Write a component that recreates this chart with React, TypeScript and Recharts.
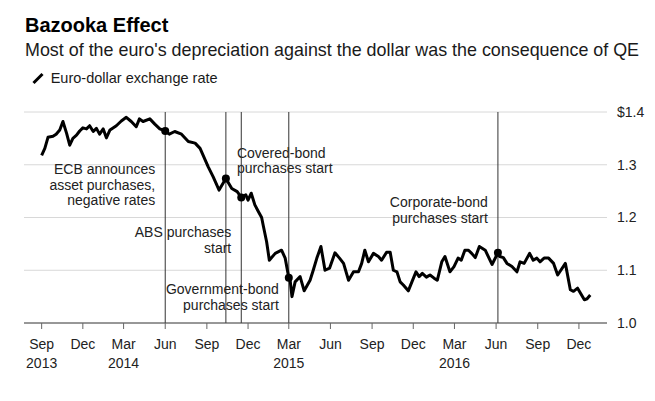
import { LineChart, Line, XAxis, YAxis, CartesianGrid, ReferenceLine, ReferenceDot } from 'recharts';

// weekly-ish readings of the euro-dollar rate
const dates = [
    '2013-09-01', '2013-09-08', '2013-09-15', '2013-09-26', '2013-10-03', '2013-10-11', '2013-10-18', '2013-10-26',
    '2013-11-02', '2013-11-09', '2013-11-17', '2013-11-24', '2013-12-01', '2013-12-09', '2013-12-16', '2013-12-24',
    '2013-12-31', '2014-01-07', '2014-01-15', '2014-01-22', '2014-01-30', '2014-02-13', '2014-02-24', '2014-03-07',
    '2014-03-18', '2014-03-29', '2014-04-05', '2014-04-13', '2014-04-28', '2014-05-09', '2014-05-20', '2014-06-01',
    '2014-06-10', '2014-06-22', '2014-07-07', '2014-07-22', '2014-08-06', '2014-08-17', '2014-09-04', '2014-09-15',
    '2014-09-28', '2014-10-13', '2014-10-26', '2014-11-07', '2014-11-16', '2014-11-26', '2014-12-01', '2014-12-08',
    '2014-12-16', '2014-12-24', '2014-12-31', '2015-01-04', '2015-01-11', '2015-01-17', '2015-01-30', '2015-02-13',
    '2015-02-21', '2015-03-01', '2015-03-04', '2015-03-08', '2015-03-15', '2015-03-26', '2015-04-04', '2015-04-17',
    '2015-04-24', '2015-05-02', '2015-05-11', '2015-05-20', '2015-05-30', '2015-06-11', '2015-06-21', '2015-06-30',
    '2015-07-11', '2015-07-22', '2015-08-02', '2015-08-09', '2015-08-16', '2015-08-24', '2015-09-04', '2015-09-15',
    '2015-09-22', '2015-10-03', '2015-10-11', '2015-10-18', '2015-10-26', '2015-11-02', '2015-11-09', '2015-11-20',
    '2015-11-28', '2015-12-07', '2015-12-14', '2015-12-21', '2015-12-30', '2016-01-07', '2016-01-16', '2016-01-23',
    '2016-02-02', '2016-02-09', '2016-02-20', '2016-02-29', '2016-03-09', '2016-03-16', '2016-03-24', '2016-04-01',
    '2016-04-08', '2016-04-16', '2016-04-25', '2016-05-08', '2016-05-23', '2016-06-05', '2016-06-09', '2016-06-17',
    '2016-06-25', '2016-07-06', '2016-07-17', '2016-07-24', '2016-08-02', '2016-08-14', '2016-08-22', '2016-08-30',
    '2016-09-06', '2016-09-15', '2016-09-25', '2016-10-06', '2016-10-15', '2016-10-22', '2016-11-01', '2016-11-12',
    '2016-11-19', '2016-11-28', '2016-12-13', '2016-12-19', '2016-12-26',
];

const rates = [
    1.318, 1.331, 1.352, 1.354, 1.358, 1.366, 1.382, 1.360,
    1.337, 1.350, 1.356, 1.364, 1.370, 1.368, 1.374, 1.363,
    1.369, 1.358, 1.368, 1.351, 1.366, 1.374, 1.383, 1.390,
    1.382, 1.372, 1.387, 1.382, 1.387, 1.377, 1.368, 1.364,
    1.358, 1.363, 1.358, 1.344, 1.341, 1.331, 1.296, 1.277,
    1.252, 1.274, 1.255, 1.249, 1.238, 1.243, 1.233, 1.246,
    1.224, 1.211, 1.200, 1.183, 1.154, 1.119, 1.132, 1.138,
    1.123, 1.086, 1.081, 1.050, 1.078, 1.088, 1.061, 1.081,
    1.100, 1.123, 1.145, 1.100, 1.104, 1.133, 1.123, 1.113,
    1.081, 1.097, 1.097, 1.113, 1.138, 1.116, 1.132, 1.126,
    1.119, 1.134, 1.134, 1.100, 1.097, 1.078, 1.072, 1.061,
    1.078, 1.097, 1.088, 1.094, 1.087, 1.091, 1.085, 1.081,
    1.116, 1.126, 1.097, 1.107, 1.123, 1.119, 1.138, 1.138,
    1.132, 1.124, 1.145, 1.138, 1.111, 1.133, 1.126, 1.124,
    1.113, 1.107, 1.097, 1.116, 1.113, 1.132, 1.119, 1.123,
    1.116, 1.123, 1.123, 1.113, 1.091, 1.100, 1.113, 1.063,
    1.060, 1.066, 1.044, 1.046, 1.053,
];

const tickDates = [
    '2013-09-01', '2013-12-01', '2014-03-01', '2014-06-01', '2014-09-01', '2014-12-01', '2015-03-01',
    '2015-06-01', '2015-09-01', '2015-12-01', '2016-03-01', '2016-06-01', '2016-09-01', '2016-12-01',
];
const tickMonths = ['Sep', 'Dec', 'Mar', 'Jun', 'Sep', 'Dec', 'Mar', 'Jun', 'Sep', 'Dec', 'Mar', 'Jun', 'Sep', 'Dec'];
const tickYears = ['2013', '', '2014', '', '', '', '2015', '', '', '', '2016', '', '', ''];

const yTicks = [1.0, 1.1, 1.2, 1.3, 1.4];

const eventDates = ['2014-06-01', '2014-10-13', '2014-11-16', '2015-03-01', '2016-06-05'];
const eventLabels = [
    ['ECB announces', 'asset purchases,', 'negative rates'],
    ['Covered-bond', 'purchases start'],
    ['ABS purchases', 'start'],
    ['Government-bond', 'purchases start'],
    ['Corporate-bond', 'purchases start'],
];
// where each note sits relative to its line (px below plot top)
const noteLayout = [
    { side: 'left', top: 62 },
    { side: 'right', top: 45.7 },
    { side: 'left', top: 125.3 },
    { side: 'left', top: 182 },
    { side: 'left', top: 95.3 },
];

const FONT = "'Liberation Sans', Arial, Helvetica, sans-serif";

const data = dates.map((d, i) => ({ t: Date.parse(d), rate: rates[i] }));
const xDomain = [Date.parse('2013-07-24'), Date.parse('2017-02-01')];

function XTick({ x, y, payload }: any) {
    const i = tickDates.findIndex((d) => Date.parse(d) === payload.value);
    return (
        <g>
            <text x={x} y={y + 18} textAnchor="middle" fontSize={14} fill="#222" fontFamily={FONT}>{tickMonths[i]}</text>
            {tickYears[i] && (
                <text x={x} y={y + 36.5} textAnchor="middle" fontSize={14} fill="#222" fontFamily={FONT}>{tickYears[i]}</text>
            )}
        </g>
    );
}

function EventNote({ viewBox, lines, side, top }: any) {
    if (!viewBox) return null;
    const tx = side === 'left' ? viewBox.x - 10 : viewBox.x + 11;
    return (
        <text textAnchor={side === 'left' ? 'end' : 'start'} fontSize={14} fill="#222" fontFamily={FONT}>
            {lines.map((l: string, i: number) => (
                <tspan key={i} x={tx} y={viewBox.y + top + i * 15.7}>{l}</tspan>
            ))}
        </text>
    );
}

export default function App() {
    return (
        <div style={{ position: 'absolute', left: 0, top: 0, width: 655, height: 401, background: '#fff', fontFamily: FONT }}>
            <svg width={655} height={100} style={{ position: 'absolute', left: 0, top: 0 }}>
                <text x={25} y={32.3} fontSize={20} fontWeight="bold" fill="#000" fontFamily={FONT}>Bazooka Effect</text>
                <text x={25} y={56} fontSize={17.9} fill="#1a1a1a" fontFamily={FONT}>
                    Most of the euro's depreciation against the dollar was the consequence of QE
                </text>
                <line x1={33.5} y1={83} x2={42.5} y2={74} stroke="#000" strokeWidth={3} />
                <text x={50.7} y={82.7} fontSize={14.5} fill="#1a1a1a" fontFamily={FONT}>Euro-dollar exchange rate</text>
            </svg>
            <div style={{ position: 'absolute', left: 0, top: 0 }}>
                <LineChart width={655} height={401} data={data} margin={{ top: 112, right: 0, bottom: 38, left: 24 }}>
                    <CartesianGrid vertical={false} stroke="#d8d8d8" />
                    <XAxis
                        dataKey="t"
                        type="number"
                        domain={xDomain}
                        ticks={tickDates.map((d) => Date.parse(d))}
                        tick={<XTick />}
                        tickSize={6}
                        height={40}
                        axisLine={{ stroke: '#444' }}
                        tickLine={{ stroke: '#666' }}
                        interval={0}
                        allowDataOverflow
                    />
                    <YAxis
                        orientation="right"
                        domain={[1.0, 1.4]}
                        ticks={yTicks}
                        width={48}
                        axisLine={false}
                        tickLine={false}
                        tickSize={0}
                        tickMargin={10}
                        tick={{ fontSize: 14, fill: '#222', fontFamily: FONT }}
                        tickFormatter={(v: number) => (v === 1.4 ? '$1.4' : v.toFixed(1))}
                    />
                    {eventDates.map((d, i) => (
                        <ReferenceLine
                            key={d}
                            x={Date.parse(d)}
                            stroke="#333"
                            strokeWidth={1}
                            label={<EventNote lines={eventLabels[i]} side={noteLayout[i].side} top={noteLayout[i].top} />}
                        />
                    ))}
                    <Line
                        type="linear"
                        dataKey="rate"
                        stroke="#000"
                        strokeWidth={3}
                        strokeLinejoin="round"
                        dot={false}
                        isAnimationActive={false}
                    />
                    {eventDates.map((d) => (
                        <ReferenceDot
                            key={'dot' + d}
                            x={Date.parse(d)}
                            y={rates[dates.indexOf(d)]}
                            r={4}
                            fill="#000"
                            stroke="none"
                        />
                    ))}
                </LineChart>
            </div>
        </div>
    );
}
